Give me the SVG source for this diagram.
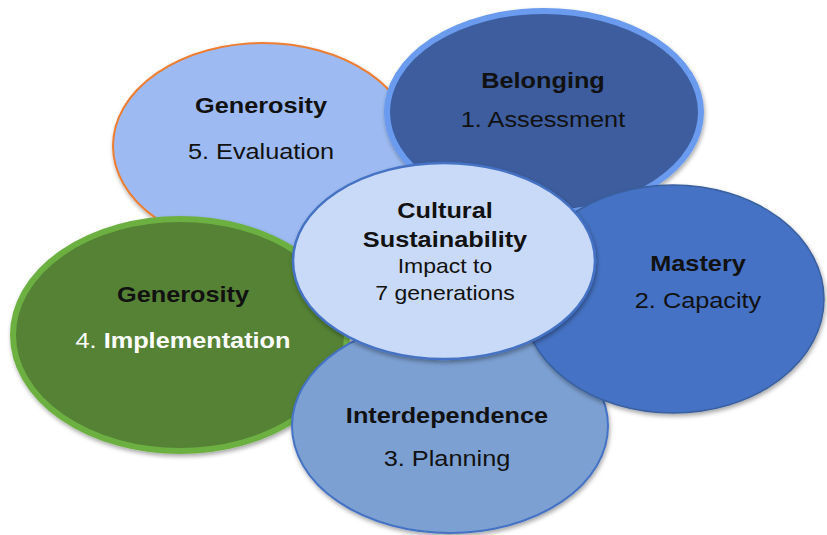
<svg xmlns="http://www.w3.org/2000/svg" width="827" height="535" viewBox="0 0 827 535">
<defs>
<filter id="sh" x="-10%" y="-10%" width="125%" height="125%">
<feDropShadow dx="1" dy="2.5" stdDeviation="2" flood-color="#000" flood-opacity="0.35"/>
</filter>
<style>
.t{font-family:"Liberation Sans",Arial,sans-serif;font-size:22px;fill:#111;text-anchor:middle}
.b{font-weight:bold}
.s{font-size:20px}
.w{fill:#fff}
ellipse{filter:url(#sh)}
</style>
</defs>
<rect width="827" height="535" fill="#fff"/>
<g id="n5">
<ellipse cx="263" cy="146" rx="150" ry="103" fill="#9DBBF2" stroke="#ED7D31" stroke-width="2"/>
<g transform="translate(261 0) scale(1.15 1)">
<text class="t b" x="0" y="113">Generosity</text>
<text class="t" x="0" y="159">5. Evaluation</text>
</g>
</g>
<g id="n1">
<ellipse cx="544" cy="112" rx="157" ry="101" fill="#3C5D9E" stroke="#6A9BEE" stroke-width="6"/>
<g transform="translate(543 0) scale(1.15 1)">
<text class="t b" x="0" y="88">Belonging</text>
<text class="t" x="0" y="127">1. Assessment</text>
</g>
</g>
<g id="n4">
<ellipse cx="180" cy="335" rx="167" ry="116" fill="#548235" stroke="#6DB043" stroke-width="6"/>
<g transform="translate(183 0) scale(1.15 1)">
<text class="t b" x="0" y="302">Generosity</text>
<text class="t w" x="0" y="348">4. <tspan class="b">Implementation</tspan></text>
</g>
</g>
<g id="n3">
<ellipse cx="450" cy="426" rx="158" ry="107" fill="#7BA0D2" stroke="#4472C4" stroke-width="2"/>
<g transform="translate(447 0) scale(1.15 1)">
<text class="t b" x="0" y="423">Interdependence</text>
<text class="t" x="0" y="466">3. Planning</text>
</g>
</g>
<g id="n2">
<ellipse cx="673" cy="299" rx="151" ry="114" fill="#4472C4" stroke="#3A609F" stroke-width="1.5"/>
<g transform="translate(698 0) scale(1.15 1)">
<text class="t b" x="0" y="271">Mastery</text>
<text class="t" x="0" y="308">2. Capacity</text>
</g>
</g>
<g id="center">
<ellipse cx="444" cy="261" rx="151" ry="98" fill="#C9DAF8" stroke="#4472C4" stroke-width="2.5"/>
<g transform="translate(445 0) scale(1.15 1)">
<text class="t b" x="0" y="218">Cultural</text>
<text class="t b" x="0" y="247">Sustainability</text>
<text class="t s" x="0" y="273">Impact to</text>
<text class="t s" x="0" y="300">7 generations</text>
</g>
</g>
</svg>
